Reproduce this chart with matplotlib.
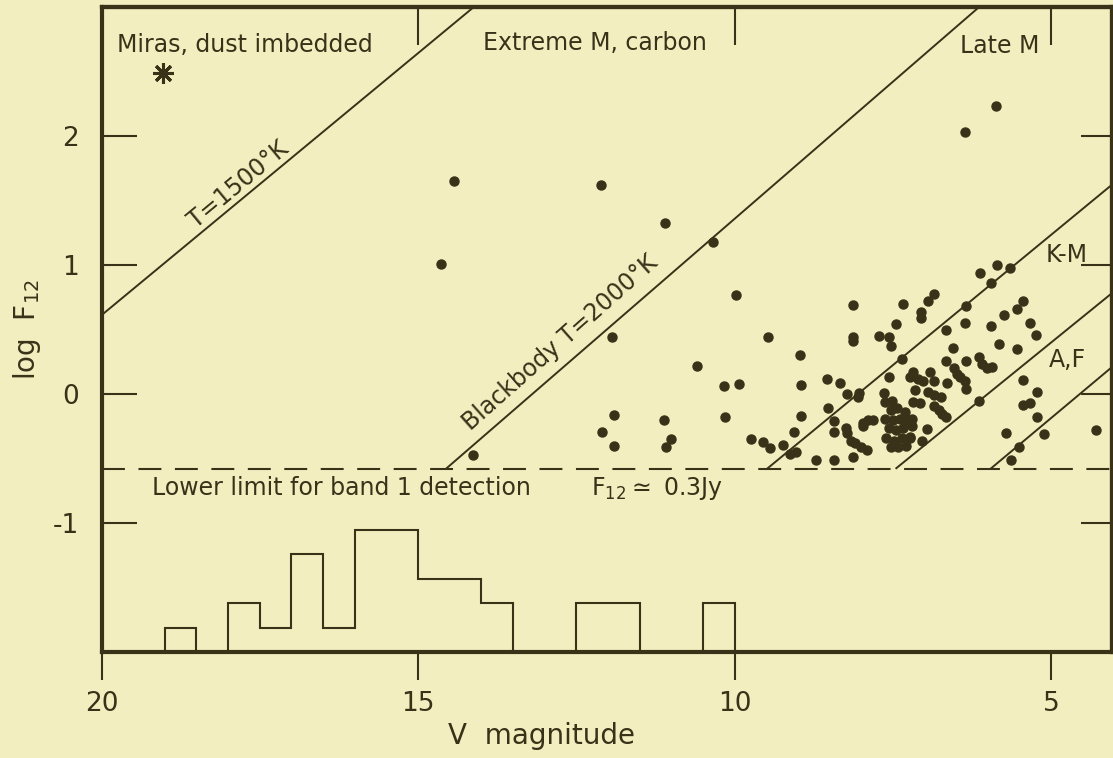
import numpy as np
import matplotlib
matplotlib.use("Agg")
import matplotlib.pyplot as plt

plt.rcParams['font.family'] = ['DejaVu Sans']
plt.rcParams['axes.unicode_minus'] = False

# ---------------- data ----------------
V_STARS = [
    14.43, 14.64, 12.11, 11.10, 10.34, 9.98, 11.94, 12.09, 11.90, 11.90, 11.11, 11.08, 11.00,
    14.14, 10.59, 10.17, 9.94, 10.16, 6.37, 5.88, 9.48,
    8.97, 8.96, 8.96, 9.06, 9.75, 9.56, 9.44, 9.23, 9.12, 9.04, 8.72, 8.44, 8.14, 8.55, 8.34,
    8.22, 8.04, 8.06, 8.53, 8.43, 8.44, 8.24, 8.23, 8.16, 8.10, 8.00, 7.91, 8.14, 8.14, 8.14,
    7.72, 7.56, 7.54, 7.45, 7.35, 7.56, 7.64, 7.36, 7.97, 7.89, 7.81, 7.97,
    7.62, 7.51, 7.54, 7.43, 7.62, 7.50, 7.39, 7.57, 7.45, 7.34, 7.61, 7.48, 7.36, 7.23, 7.54,
    7.42, 7.30, 7.20, 7.31,
    7.18, 7.23, 7.10, 7.02, 6.92, 6.86, 7.15, 6.95, 6.86, 6.75, 7.18, 7.07, 6.86, 6.78, 6.72,
    6.66, 6.96, 7.04, 7.28, 7.20, 7.23,
    6.66, 6.56, 6.66, 6.54, 6.49, 6.44, 6.65, 6.36, 6.34, 6.35, 6.35, 6.36, 6.12, 5.86, 5.95,
    5.65, 6.86, 6.95, 7.06, 7.06, 6.15, 6.09, 6.02, 5.94, 5.95, 5.74, 5.54, 5.44, 5.82, 5.54,
    5.34, 5.24, 6.14, 5.45, 5.23, 5.44, 5.34, 5.22, 5.12, 5.72, 5.51, 5.63, 4.29,
]
LOGF_STARS = [
    1.65, 1.01, 1.62, 1.33, 1.18, 0.77, 0.44, -0.29, -0.16, -0.40, -0.20, -0.41, -0.35,
    -0.47, 0.22, 0.06, 0.08, -0.18, 2.03, 2.23, 0.44,
    0.30, 0.07, -0.17, -0.29, -0.35, -0.37, -0.42, -0.39, -0.46, -0.45, -0.51, -0.51, -0.49, 0.12, 0.09,
    0.00, 0.01, -0.02, -0.11, -0.21, -0.29, -0.26, -0.30, -0.36, -0.38, -0.41, -0.43, 0.69, 0.44, 0.41,
    0.45, 0.44, 0.37, 0.54, 0.70, 0.13, 0.01, 0.27, -0.22, -0.20, -0.20, -0.25,
    -0.06, -0.05, -0.12, -0.11, -0.19, -0.20, -0.19, -0.26, -0.28, -0.26, -0.34, -0.36, -0.34, -0.33, -0.41,
    -0.41, -0.40, -0.25, -0.14,
    0.17, 0.13, 0.12, 0.10, 0.17, 0.10, 0.03, 0.02, -0.01, -0.02, -0.06, -0.07, -0.09, -0.12, -0.15,
    -0.18, -0.27, -0.36, -0.20, -0.19, -0.34,
    0.26, 0.36, 0.50, 0.20, 0.16, 0.13, 0.09, 0.10, 0.04, 0.26, 0.68, 0.55, 0.94, 1.00, 0.86,
    0.98, 0.78, 0.72, 0.64, 0.59, 0.29, 0.23, 0.20, 0.21, 0.53, 0.61, 0.66, 0.72, 0.39, 0.35,
    0.55, 0.46, -0.05, 0.11, 0.02, -0.08, -0.07, -0.18, -0.31, -0.30, -0.41, -0.51, -0.28,
]

MIRA_V = [19.03]
MIRA_LOGF = [2.49]

# histogram of stars below detection limit (0.5 mag bins)
HIST_EDGES = [10.0, 10.5, 11.0, 11.5, 12.0, 12.5, 13.0, 13.5, 14.0, 14.5,
              15.0, 15.5, 16.0, 16.5, 17.0, 17.5, 18.0, 18.5, 19.0]
HIST_COUNTS = [2, 0, 0, 2, 2, 0, 0, 2, 3, 3, 5, 5, 1, 4, 1, 2, 0, 1]
HIST_BASE = -2.0
HIST_UNIT = 0.19   # log units per star in the inset histogram

LOWER_LIMIT = -0.578

# blackbody / spectral-class lines: start and end points
LINE_V0 = [20.0, 14.56, 9.49, 7.46, 5.96]
LINE_F0 = [0.612, LOWER_LIMIT, LOWER_LIMIT, LOWER_LIMIT, LOWER_LIMIT]
LINE_V1 = [14.12, 6.14, 4.05, 4.05, 4.05]
LINE_F1 = [3.0, 3.0, 1.62, 0.78, 0.207]

X_TICKS = [20, 15, 10, 5]
Y_TICKS = [2, 1, 0, -1]
TOP_TICKS = [15, 10, 5]

BG = '#f3eebf'
INK = '#3a3119'

# ---------------- figure ----------------
W, H = 1113, 758
fig = plt.figure(figsize=(W / 100, H / 100), dpi=100, facecolor=BG)
ax = fig.add_axes([101.5 / W, 1 - 652.3 / H, 1010 / W, 645.3 / H])
ax.set_facecolor(BG)
ax.set_xlim(20, 4.05)
ax.set_ylim(-2, 3)

# lines
for v0, f0, v1, f1 in zip(LINE_V0, LINE_F0, LINE_V1, LINE_F1):
    ax.plot([v0, v1], [f0, f1], color=INK, lw=1.4, solid_capstyle='butt')

ax.axhline(LOWER_LIMIT, color=INK, lw=1.5, dashes=(11, 6.5))

# histogram
ax.stairs(HIST_BASE + np.array(HIST_COUNTS) * HIST_UNIT, HIST_EDGES,
          baseline=HIST_BASE, color=INK, lw=1.5)

# stars
ax.plot(V_STARS, LOGF_STARS, 'o', ms=6.5, color=INK, mec=INK, ls='none')
ax.plot(MIRA_V, MIRA_LOGF, marker=(8, 2, 0), ms=15, mew=2.2, color=INK, ls='none')

# spines / ticks
for s in ax.spines.values():
    s.set_linewidth(3.0)
    s.set_color(INK)

ax.set_xticks(X_TICKS)
ax.set_xticklabels([str(t) for t in X_TICKS])
ax.set_yticks(Y_TICKS)
ax.set_yticklabels([str(t) for t in Y_TICKS])
ax.tick_params(axis='x', direction='out', length=20, width=1.5, pad=8,
               labelsize=19, colors=INK, top=False)
ax.tick_params(axis='y', direction='in', length=25, width=1.5, pad=16,
               labelsize=19, colors=INK, right=False)

secy = ax.secondary_yaxis('right')
secy.set_yticks(Y_TICKS)
secy.tick_params(direction='in', length=22, width=1.5, colors=INK,
                 labelright=False, labelleft=False)
secy.spines['right'].set_linewidth(3.0)
secy.spines['right'].set_color(INK)

secx = ax.secondary_xaxis('top')
secx.set_xticks(TOP_TICKS)
secx.tick_params(direction='in', length=27, width=1.5, colors=INK,
                 labeltop=False, labelbottom=False)
secx.spines['top'].set_linewidth(3.0)
secx.spines['top'].set_color(INK)

# axis titles
fig.text(541 / W, 1 - 736 / H, 'V  magnitude', fontsize=20, color=INK,
         ha='center', va='center')
fig.text(27 / W, 1 - 330 / H, r'log  F$_{\mathregular{12}}$', fontsize=20, color=INK,
         ha='center', va='center', rotation=90)

# annotations
TXT = dict(color=INK, fontsize=17)
ax.text(19.75, 2.705, 'Miras, dust imbedded', ha='left', va='center', **TXT)
ax.text(13.98, 2.72, 'Extreme M, carbon', ha='left', va='center', **TXT)
ax.text(6.44, 2.70, 'Late M', ha='left', va='center', **TXT)
ax.text(5.09, 1.078, 'K-M', ha='left', va='center', **TXT)
ax.text(5.04, 0.264, 'A,F', ha='left', va='center', **TXT)
ax.text(17.84, 1.62, 'T=1500°K', ha='center', va='center', rotation=39.6,
        rotation_mode='anchor', **TXT)
ax.text(12.76, 0.40, 'Blackbody T=2000°K', ha='center', va='center', rotation=41.5,
        rotation_mode='anchor', **TXT)
ax.text(19.21, -0.729, 'Lower limit for band 1 detection', ha='left', va='center', **TXT)
ax.text(12.27, -0.729, r'F$_{\mathregular{12}}$$\simeq$ 0.3Jy', ha='left', va='center', **TXT)

fig.savefig('out.png', dpi=100, facecolor=BG)
